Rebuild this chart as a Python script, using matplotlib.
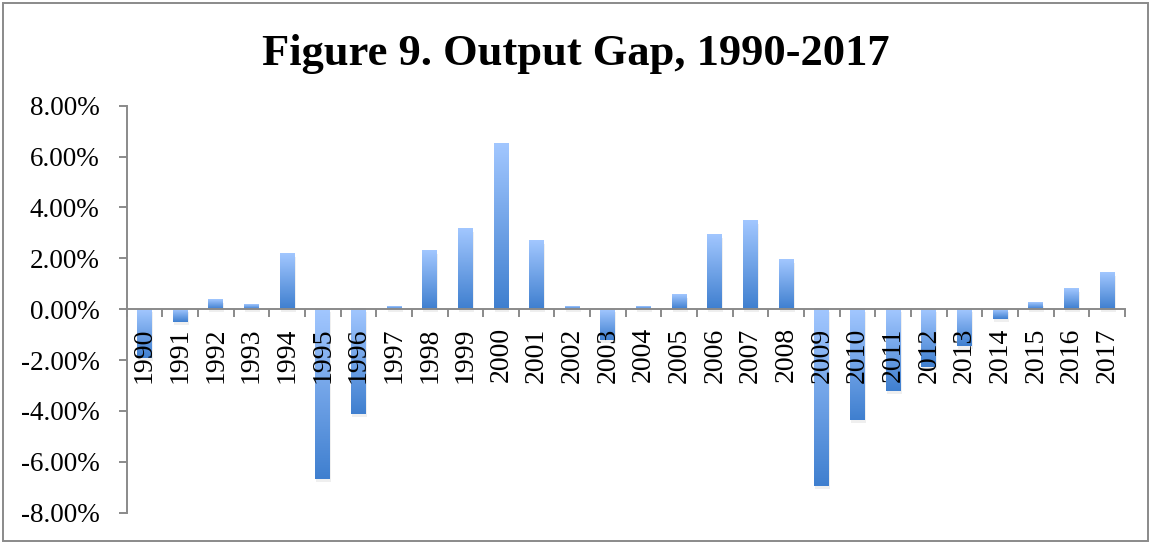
import matplotlib
matplotlib.use("Agg")
import matplotlib.pyplot as plt
import numpy as np
from matplotlib.colors import LinearSegmentedColormap
from matplotlib.patches import Rectangle
import matplotlib.transforms as mtransforms

# ---- data ----
years = [str(y) for y in range(1990, 2018)]
gap = [-1.90, -0.49, 0.37, 0.17, 2.18, -6.68, -4.13, 0.08, 2.30, 3.16,
       6.50, 2.69, 0.09, -1.21, 0.08, 0.56, 2.93, 3.48, 1.94, -6.96,
       -4.36, -3.20, -2.27, -1.44, -0.37, 0.24, 0.79, 1.43]
yticks = [-8, -6, -4, -2, 0, 2, 4, 6, 8]
title = "Figure 9. Output Gap, 1990-2017"

SERIF = ["Liberation Serif", "DejaVu Serif"]
GRAY = "#8a8a8a"

fig = plt.figure(figsize=(11.51, 5.44), dpi=100)
ax = fig.add_axes([0.110, 0.0575, 0.8674, 0.7482])

x = np.arange(len(years))
bars = ax.bar(x, gap, width=0.42, color="none", edgecolor="none", zorder=2)

cmap = LinearSegmentedColormap.from_list("g", ["#3f7fcf", "#a2c7ff"])
grad = np.linspace(0, 1, 256).reshape(-1, 1)
shadow_tr = mtransforms.offset_copy(ax.transData, fig=fig, x=1, y=-3, units="dots")
for b in bars:
    x0, w = b.get_x(), b.get_width()
    y0, h = b.get_y(), b.get_height()
    lo, hi = min(y0, y0 + h), max(y0, y0 + h)
    ax.add_patch(Rectangle((x0, lo), w, hi - lo, transform=shadow_tr,
                           facecolor="#8f8f8f", alpha=0.14, edgecolor="none", zorder=1.5))
    ax.imshow(grad, extent=[x0, x0 + w, lo, hi], origin="lower", cmap=cmap,
              aspect="auto", zorder=2, interpolation="bilinear")

ax.set_xlim(-0.5, len(years) - 0.5)
ax.set_ylim(-8, 8)

# spines
for s in ["top", "right"]:
    ax.spines[s].set_visible(False)
ax.spines["bottom"].set_position(("data", 0))
for s in ["left", "bottom"]:
    ax.spines[s].set_color(GRAY)
    ax.spines[s].set_linewidth(1.4)
ax.spines["bottom"].set_zorder(3)

# y axis
ax.set_yticks(yticks)
ax.set_yticklabels([f"{v:.2f}%" for v in yticks], fontfamily=SERIF, fontsize=19.5)
ax.tick_params(axis="y", direction="out", length=6, width=1.4, color=GRAY, pad=13.5)

# x axis: ticks at boundaries, labels at centres
ax.set_xticks(np.arange(-0.5, len(years) + 0.5, 1.0))
ax.set_xticklabels([])
ax.tick_params(axis="x", which="major", direction="out", length=6, width=1.4, color=GRAY)
ax.set_xticks(x, minor=True)
ax.set_xticklabels(years, minor=True, rotation=90, fontfamily=SERIF, fontsize=20)
ax.tick_params(axis="x", which="minor", length=0, pad=13)
ax.xaxis.set_zorder(5)

ax.set_facecolor("none")

fig.text(0.5, 0.880, title, ha="center", va="baseline", fontsize=32,
         fontweight="bold", fontfamily=SERIF)

# outer frame
fig.patches.append(Rectangle((3 / 1151, 3 / 544), 1145 / 1151, 538 / 544,
                             transform=fig.transFigure, fill=False,
                             edgecolor=GRAY, linewidth=1.4))

fig.savefig("out.png", dpi=100)
